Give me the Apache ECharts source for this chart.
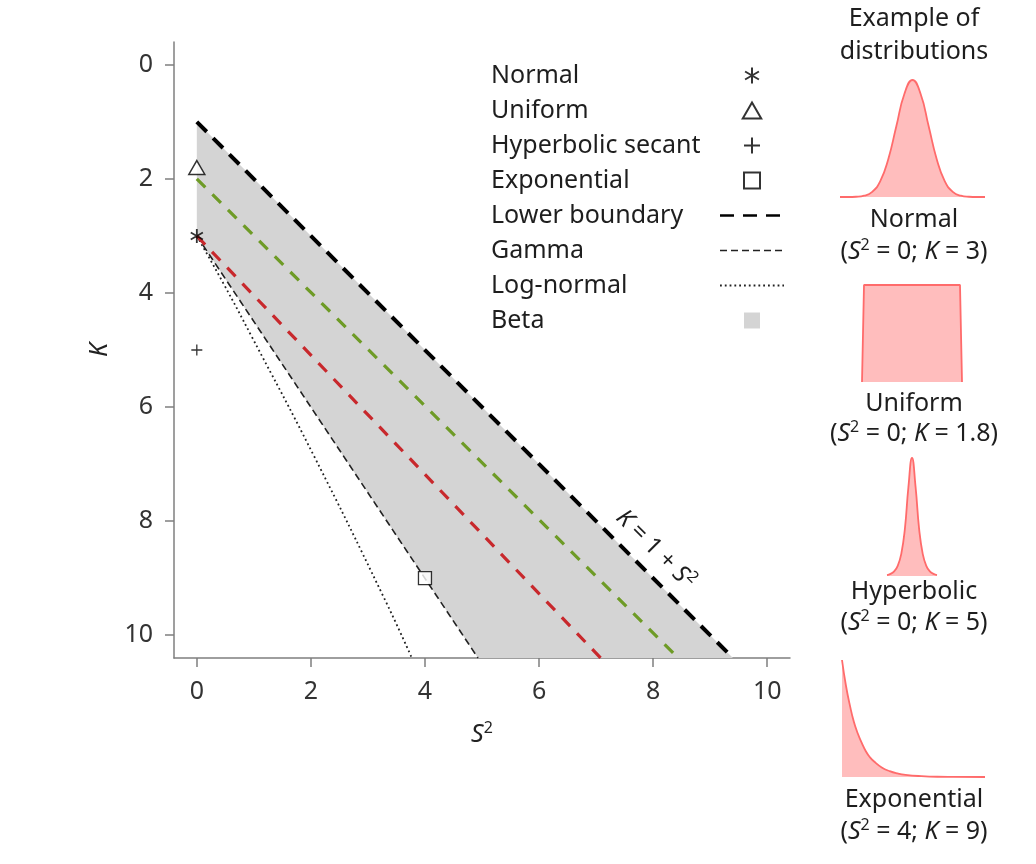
<!DOCTYPE html>
<html>
<head>
<meta charset="utf-8">
<script src="https://cdn.jsdelivr.net/npm/echarts@6/dist/echarts.min.js"></script>
<style>
html, body { margin: 0; padding: 0; background: #fff; }
#main { width: 1036px; height: 864px; }
</style>
</head>
<body>
<div id="main"></div>
<script>
// Cullen & Frey plane: squared skewness (S^2) against kurtosis (K)
let xTicks = [0, 2, 4, 6, 8, 10];
let yTicks = [0, 2, 4, 6, 8, 10];

let normalPoint = [[0, 3]];
let uniformPoint = [[0, 1.8]];
let hypsecPoint = [[0, 5]];
let exponentialPoint = [[4, 9]];

let lowerBoundary = [[0, 1], [9.4, 10.4]];
let gammaLine = [[0, 3], [4.93, 10.4]];
let lognormalLine = [[0, 3], [0.47, 3.84], [0.96, 4.76], [2.05, 6.85], [3.27, 9.32], [3.77, 10.4]];
let betaRegion = [[0, 1], [9.4, 10.4], [4.93, 10.4], [0, 3]];
let greenLine = [[0, 2], [8.44, 10.4]];
let redLine = [[0, 3], [7.08, 10.4]];

let legendNames = ['Normal', 'Uniform', 'Hyperbolic secant', 'Exponential',
  'Lower boundary', 'Gamma', 'Log-normal', 'Beta'];

// small example shapes on the right
let normalShapeX = [-4.5, -4, -3.5, -3, -2.5, -2, -1.5, -1, -0.5, 0, 0.5, 1, 1.5, 2, 2.5, 3, 3.5, 4, 4.5];
let normalShapeY = [0, 0, 0.002, 0.011, 0.044, 0.135, 0.325, 0.607, 0.882, 1, 0.882, 0.607, 0.325, 0.135, 0.044, 0.011, 0.002, 0, 0];
let uniformShapeX = [0, 0.02, 0.98, 1];
let uniformShapeY = [0, 1, 1, 0];
let hypsecShapeX = [-3.5, -3, -2.5, -2, -1.5, -1, -0.5, 0, 0.5, 1, 1.5, 2, 2.5, 3, 3.5];
let hypsecShapeY = [0.008, 0.018, 0.039, 0.086, 0.188, 0.398, 0.755, 1, 0.755, 0.398, 0.188, 0.086, 0.039, 0.018, 0.008];
let expShapeX = [0, 0.25, 0.5, 0.75, 1, 1.25, 1.5, 1.75, 2, 2.5, 3, 3.5, 4, 5, 6, 7, 9];
let expShapeY = [1, 0.78, 0.61, 0.47, 0.37, 0.29, 0.22, 0.17, 0.135, 0.082, 0.05, 0.03, 0.018, 0.007, 0.002, 0.001, 0];

let shapeNames = ['Normal', 'Uniform', 'Hyperbolic', 'Exponential'];
let shapeS2 = [0, 0, 0, 4];
let shapeK = [3, 1.8, 5, 9];

const FONT = 'Noto Sans';
const FS = 25;
const AXIS_GREY = '#7f7f7f';
const PINK_LINE = '#ff6b6b';
const PINK_FILL = '#ffbdbd';

let zip = (xs, ys) => xs.map((x, i) => [x, ys[i]]);

let chart = echarts.init(document.getElementById('main'));

let mainAxisCommon = {
  type: 'value', min: -0.4, max: 10.4,
  splitLine: { show: false },
  axisLine: { show: true, onZero: false, lineStyle: { color: AXIS_GREY, width: 1.5 } },
  axisTick: { show: true, length: 9, lineStyle: { color: AXIS_GREY, width: 1.5 } },
  axisLabel: { color: '#333', fontSize: FS, fontFamily: FONT, margin: 21 }
};

let hiddenAxis = (idx, min, max) => ({ type: 'value', gridIndex: idx, min: min, max: max, show: false });

let miniSeries = (name, idx, data) => ({
  name: name, type: 'line', xAxisIndex: idx, yAxisIndex: idx,
  data: data, smooth: true, symbol: 'none', clip: false, silent: true,
  lineStyle: { color: PINK_LINE, width: 1.8 },
  areaStyle: { color: PINK_FILL, opacity: 1 }
});

let option = {
  animation: false,
  textStyle: { fontFamily: FONT },
  grid: [
    { left: 174, right: 246, top: 42, bottom: 206 },
    { left: 840, top: 80, width: 145, height: 117 },
    { left: 862, top: 285, width: 100, height: 97 },
    { left: 887, top: 458, width: 50, height: 118 },
    { left: 842, top: 660, width: 143, height: 117 }
  ],
  xAxis: [
    Object.assign({}, mainAxisCommon, {
      gridIndex: 0,
      axisTick: Object.assign({}, mainAxisCommon.axisTick, { customValues: xTicks }),
      axisLabel: Object.assign({}, mainAxisCommon.axisLabel, { customValues: xTicks }),
      name: '{i|S}{s|2}', nameLocation: 'middle', nameGap: 62,
      nameTextStyle: {
        rich: {
          i: { fontStyle: 'italic', fontSize: FS, fontFamily: FONT, color: '#222' },
          s: { fontSize: 16, fontFamily: FONT, color: '#222', padding: [0, 0, 13, 0] }
        }
      }
    }),
    hiddenAxis(1, -4.5, 4.5),
    hiddenAxis(2, 0, 1),
    hiddenAxis(3, -3.5, 3.5),
    hiddenAxis(4, 0, 9)
  ],
  yAxis: [
    Object.assign({}, mainAxisCommon, {
      gridIndex: 0, inverse: true,
      axisTick: Object.assign({}, mainAxisCommon.axisTick, { customValues: yTicks }),
      axisLabel: Object.assign({}, mainAxisCommon.axisLabel, { customValues: yTicks }),
      name: 'K', nameLocation: 'middle', nameGap: 62,
      nameTextStyle: { fontStyle: 'italic', fontSize: FS, fontFamily: FONT, color: '#222' }
    }),
    hiddenAxis(1, 0, 1),
    hiddenAxis(2, 0, 1),
    hiddenAxis(3, 0, 1),
    hiddenAxis(4, 0, 1)
  ],
  legend: {
    orient: 'vertical', left: 486, top: 58,
    align: 'right', itemWidth: 64, itemHeight: 16, itemGap: 10,
    symbolKeepAspect: true, selectedMode: false,
    data: legendNames.map(n => {
      let item = { name: n };
      if (n === 'Lower boundary') item.lineStyle = { width: 2.5 };
      if (n === 'Gamma') item.lineStyle = { width: 1.5 };
      if (n === 'Log-normal') item.lineStyle = { width: 1.8 };
      if (['Lower boundary', 'Gamma', 'Log-normal'].indexOf(n) >= 0) {
        item.itemStyle = { opacity: 0, borderWidth: 0 };
      }
      if (n === 'Beta') item.icon = 'path://M0,0H10V10H0Z';
      return item;
    }),
    formatter: n => '{t|' + n + '}',
    textStyle: {
      fontSize: FS,
      rich: { t: { width: 224, align: 'left', fontSize: FS, fontFamily: FONT, color: '#1e1e1e' } }
    }
  },
  series: [
    {
      name: 'Beta', type: 'custom', xAxisIndex: 0, yAxisIndex: 0,
      data: [betaRegion[0]], silent: true, z: 1,
      itemStyle: { color: '#d4d4d4' },
      renderItem: function (params, api) {
        let pts = betaRegion.map(p => api.coord(p));
        return { type: 'polygon', shape: { points: pts }, style: { fill: '#d4d4d4' } };
      }
    },
    {
      name: 'Log-normal', type: 'line', data: lognormalLine, smooth: true, symbol: 'none', z: 3,
      lineStyle: { color: '#222', width: 1.8, type: [1.8, 3] }
    },
    {
      name: 'Gamma', type: 'line', data: gammaLine, symbol: 'none', z: 3,
      lineStyle: { color: '#222', width: 1.6, type: [7, 4] }
    },
    {
      name: 'Line 2', type: 'line', data: redLine, symbol: 'none', z: 3,
      lineStyle: { color: '#c8282c', width: 3.2, type: [12, 10] }
    },
    {
      name: 'Line 1', type: 'line', data: greenLine, symbol: 'none', z: 3,
      lineStyle: { color: '#6e9b26', width: 3.2, type: [12, 10] }
    },
    {
      name: 'Lower boundary', type: 'line', data: lowerBoundary, symbol: 'none', z: 3,
      lineStyle: { color: '#000', width: 4, type: [14, 9] }
    },
    {
      name: 'Normal', type: 'scatter', data: normalPoint, z: 5,
      symbol: 'path://M0,-10L0,10M-8.66,-5L8.66,5M-8.66,5L8.66,-5', symbolSize: 14, symbolKeepAspect: true,
      itemStyle: { color: '#000', borderColor: '#000', borderWidth: 1.8 }
    },
    {
      name: 'Uniform', type: 'scatter', data: uniformPoint, z: 5,
      symbol: 'path://M0,-10L8.66,5L-8.66,5Z', symbolSize: 16, symbolKeepAspect: true,
      itemStyle: { color: '#fff', borderColor: '#000', borderWidth: 1.5 }
    },
    {
      name: 'Hyperbolic secant', type: 'scatter', data: hypsecPoint, z: 5,
      symbol: 'path://M0,-5L0,5M-5,0L5,0', symbolSize: 11, symbolKeepAspect: true,
      itemStyle: { color: '#000', borderColor: '#000', borderWidth: 1.3 }
    },
    {
      name: 'Exponential', type: 'scatter', data: exponentialPoint, z: 5,
      symbol: 'path://M0,0H10V10H0Z', symbolSize: 13, symbolKeepAspect: true,
      itemStyle: { color: '#fff', borderColor: '#000', borderWidth: 1.3 }
    },
    miniSeries('normal shape', 1, zip(normalShapeX, normalShapeY)),
    Object.assign(miniSeries('uniform shape', 2, zip(uniformShapeX, uniformShapeY)), { smooth: false }),
    miniSeries('hyperbolic shape', 3, zip(hypsecShapeX, hypsecShapeY)),
    miniSeries('exponential shape', 4, zip(expShapeX, expShapeY))
  ]
};

chart.setOption(option);

// annotations
let txt = (x, y, text, size) => ({
  type: 'text', x: x, y: y, silent: true,
  style: {
    text: text, fontSize: size || FS, fontFamily: FONT, fill: '#1e1e1e',
    align: 'center', verticalAlign: 'middle',
    rich: {
      i: { fontStyle: 'italic', fontSize: size || FS, fontFamily: FONT, fill: '#1e1e1e' },
      s: { fontSize: 16, fontFamily: FONT, fill: '#1e1e1e', padding: [0, 0, 13, 0] }
    }
  }
});

let graphics = [txt(914, 19, 'Example of'), txt(914, 52, 'distributions')];
let labelY = [[220, 252], [404, 434], [592, 623], [800, 832]];
shapeNames.forEach((n, i) => {
  graphics.push(txt(914, labelY[i][0], n));
  graphics.push(txt(914, labelY[i][1], '({i|S}{s|2} = ' + shapeS2[i] + '; {i|K} = ' + shapeK[i] + ')'));
});

// label along the upper boundary line
let a = chart.convertToPixel({ gridIndex: 0 }, [7.77, 8.77]);
let b = chart.convertToPixel({ gridIndex: 0 }, lowerBoundary[1]);
let ang = Math.atan2(b[1] - a[1], b[0] - a[0]);
let off = 22;
let lbl = txt(a[0] + off * Math.sin(ang), a[1] - off * Math.cos(ang), '{i|K} = 1 + {i|S}{s|2}', 24);
lbl.rotation = -ang;
graphics.push(lbl);

chart.setOption({ graphic: graphics });
</script>
</body>
</html>
